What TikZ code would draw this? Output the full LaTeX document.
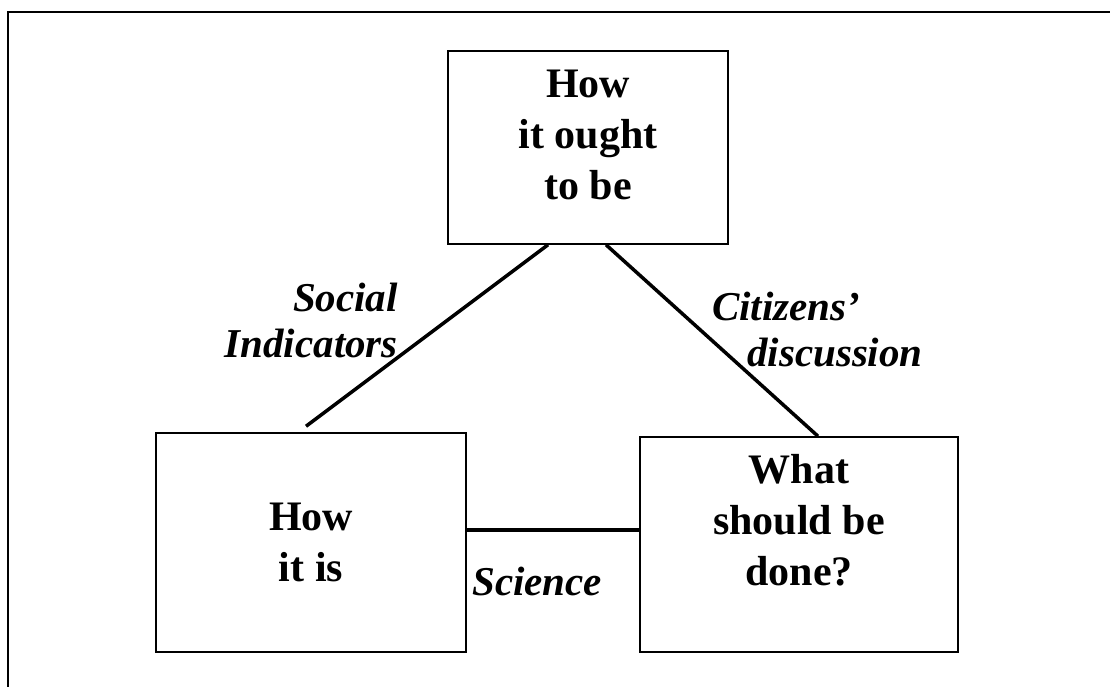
\documentclass[tikz,border=0pt]{standalone}
\usepackage{fontspec}
\setmainfont{Liberation Serif}
\usetikzlibrary{calc,positioning}
\tikzstyle{pane}=[draw,line width=1.5pt,inner sep=0,align=center,%
  font=\fontsize{42}{51}\selectfont\bfseries]
\tikzstyle{link}=[line width=3.5pt]
\tikzstyle{tag}=[inner sep=0,font=\fontsize{41}{46}\selectfont\bfseries\itshape]

\begin{document}
\begin{tikzpicture}[x=1pt,y=-1pt,
    frame/.style={line width=2.5pt}
    ]
    \clip (0,0) rectangle (1110,687);
    \draw [frame] (8,12) rectangle (1140,720);

    \node [pane,minimum width=280pt,minimum height=193pt,text depth=26pt]
      (ought) at (588,147.5) {How\\it ought\\to be};
    \node [pane,minimum width=310pt,minimum height=219pt]
      (is) at (311,542.5) {How\\it is};
    \node [pane,minimum width=318pt,minimum height=215pt,text depth=50pt]
      (done) at (799,544.5) {What\\should be\\done?};

    % the three sides
    \draw [link] ([xshift=-40pt]ought.south) -- ([xshift=-5pt,yshift=6pt]is.north);
    \draw [link] ([xshift=18pt]ought.south) -- ([xshift=19pt]done.north);
    \draw [link] ([yshift=12.5pt]is.east) coordinate (sci) -- (sci -| done.west);

    % labels
    \node [tag,align=right,anchor=south east] (social) at (398,358) {Social\\Indicators};
    \node [tag,align=left,anchor=south west] (citizens) at (712,367)
      {Citizens’\\\hspace*{35pt}discussion};
    \node [tag,anchor=base west] (science) at (472,595) {Science};
  \end{tikzpicture}
\end{document}
